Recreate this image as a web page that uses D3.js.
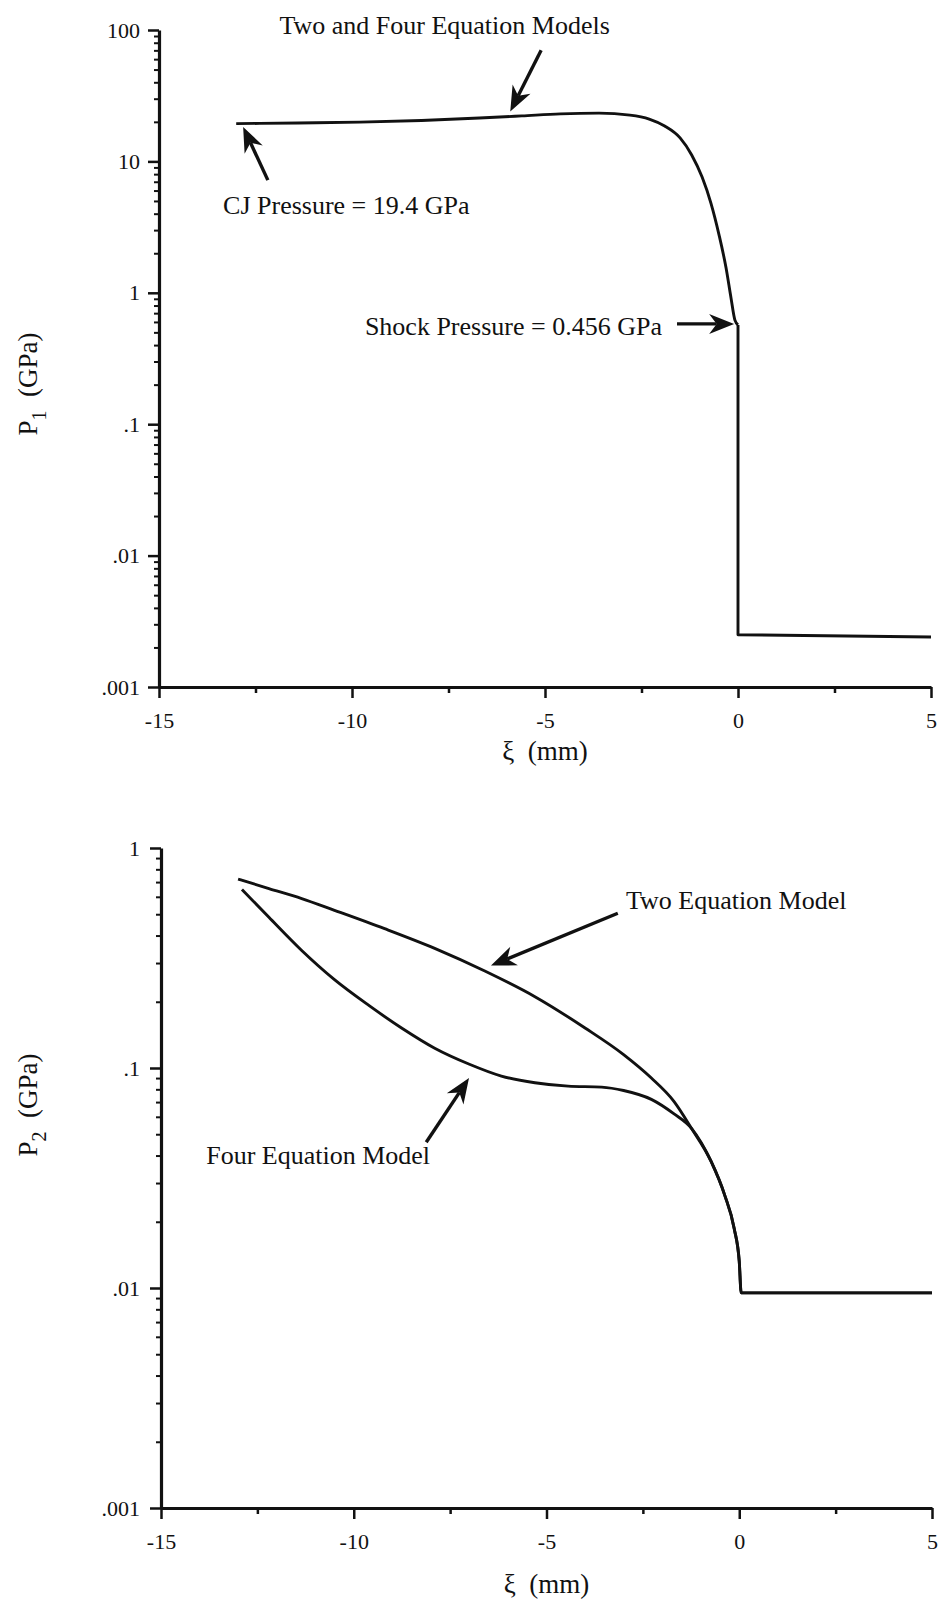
<!DOCTYPE html>
<html>
<head>
<meta charset="utf-8">
<script src="https://cdn.jsdelivr.net/npm/d3@7/dist/d3.min.js"></script>
<style>
  body { margin: 0; background: #fff; }
  svg text { font-family: "Liberation Serif", "Times New Roman", serif; fill: #111; }
</style>
</head>
<body>
<div id="chart"></div>
<script>
// ---- values ----
const xTicks = [-15, -10, -5, 0, 5];
const xMinorTicks = [-12.5, -7.5, -2.5, 2.5];
const xTickLabels = ['-15', '-10', '-5', '0', '5'];

const p1Ticks = [100, 10, 1, 0.1, 0.01, 0.001];
const p1TickLabels = ['100', '10', '1', '.1', '.01', '.001'];
const p2Ticks = [1, 0.1, 0.01, 0.001];
const p2TickLabels = ['1', '.1', '.01', '.001'];

// P1, two and four equation models (same curve)
const p1Xi = [-13, -11.4, -9.8, -8.2, -6.7, -5.6, -4.6, -3.6, -2.8, -2.3, -1.9, -1.5, -1.2, -0.93, -0.7, -0.49, -0.31, -0.18, -0.08, 0];
const p1 = [19.4, 19.6, 19.9, 20.5, 21.4, 22.2, 23.0, 23.3, 22.5, 21.0, 18.6, 15.1, 11.2, 7.6, 4.8, 2.75, 1.55, 0.91, 0.62, 0.57];
// shock jump and unreacted state ahead of the front
const p1JumpXi = [0, 0, 5];
const p1Jump = [0.57, 0.0025, 0.0024];

// P2
const p2TwoXi = [-13.0, -12.2, -11.35, -10.5, -9.2, -7.9, -6.6, -5.3, -4.0, -3.0, -2.28, -1.7, -1.24, -0.73, -0.38, -0.13, 0, 0.05, 5];
const p2Two = [0.722, 0.654, 0.589, 0.521, 0.43, 0.35, 0.276, 0.211, 0.152, 0.115, 0.090, 0.0707, 0.0532, 0.0376, 0.0265, 0.0186, 0.0132, 0.0095, 0.0095];
const p2FourXi = [-12.9, -12.2, -11.35, -10.5, -9.6, -8.76, -7.9, -7.0, -6.17, -5.3, -4.44, -3.57, -3.0, -2.28, -1.7, -1.24, -0.73, -0.38, -0.13, 0, 0.05, 5];
const p2Four = [0.648, 0.484, 0.342, 0.252, 0.192, 0.152, 0.123, 0.104, 0.0919, 0.0857, 0.0827, 0.0819, 0.079, 0.072, 0.062, 0.0532, 0.0376, 0.0265, 0.0186, 0.0132, 0.0095, 0.0095];

const width = 944;
const height = 1602;

const svg = d3.select('#chart').append('svg')
  .attr('width', width)
  .attr('height', height)
  .attr('viewBox', [0, 0, width, height]);

function minorLog(lo, hi) {
  const out = [];
  for (let d = lo; d < hi * 0.99; d *= 10) {
    for (let k = 2; k <= 9; k++) out.push(d * k);
  }
  return out;
}

function drawArrow(g, x1, y1, x2, y2) {
  const ang = Math.atan2(y2 - y1, x2 - x1);
  const L = 25, W = 20;
  const bx = x2 - Math.cos(ang) * L * 0.7, by = y2 - Math.sin(ang) * L * 0.7;
  g.append('line')
    .attr('x1', x1).attr('y1', y1).attr('x2', bx).attr('y2', by)
    .attr('stroke', '#111').attr('stroke-width', 3.4);
  const pts = [
    [0, 0], [-L, W / 2], [-L * 0.7, 0], [-L, -W / 2]
  ].map(([u, v]) => [x2 + u * Math.cos(ang) - v * Math.sin(ang), y2 + u * Math.sin(ang) + v * Math.cos(ang)]);
  g.append('path').attr('d', 'M' + pts.join('L') + 'Z').attr('fill', '#111');
}

function panel(cfg) {
  const x = d3.scaleLinear().domain([-15, 5]).range(cfg.xRange);
  // domain [top value, bottom value] -> range [top px, bottom px]
  const y = d3.scaleLog().domain(cfg.yDomain).range(cfg.yRange);
  const g = svg.append('g');

  // y axis: minor ticks then major ticks
  g.append('g')
    .attr('transform', `translate(${cfg.xRange[0]},0)`)
    .call(d3.axisLeft(y).tickValues(minorLog(cfg.yDomain[1], cfg.yDomain[0])).tickSize(5).tickSizeOuter(0).tickFormat(''))
    .call(a => a.select('.domain').remove())
    .call(a => a.selectAll('line').attr('stroke', '#111').attr('stroke-width', 2));
  g.append('g')
    .attr('transform', `translate(${cfg.xRange[0]},0)`)
    .call(d3.axisLeft(y).tickValues(cfg.yTicks).tickSize(11).tickSizeOuter(0).tickPadding(cfg.yPad)
      .tickFormat((d, i) => cfg.yLabels[i]))
    .call(a => a.select('.domain').attr('stroke', '#111').attr('stroke-width', 3.2))
    .call(a => a.selectAll('line').attr('stroke', '#111').attr('stroke-width', 2.5))
    .call(a => a.selectAll('text').attr('font-size', 22).attr('font-family', '"Liberation Serif", serif'));

  // x axis along the bottom of the panel
  const yb = cfg.yRange[1];
  g.append('g')
    .attr('transform', `translate(0,${yb})`)
    .call(d3.axisBottom(x).tickValues(xMinorTicks).tickSize(6).tickSizeOuter(0).tickFormat(''))
    .call(a => a.select('.domain').remove())
    .call(a => a.selectAll('line').attr('stroke', '#111').attr('stroke-width', 2.5));
  g.append('g')
    .attr('transform', `translate(0,${yb})`)
    .call(d3.axisBottom(x).tickValues(xTicks).tickSize(11).tickSizeOuter(0).tickPadding(cfg.xPad)
      .tickFormat((d, i) => xTickLabels[i]))
    .call(a => a.select('.domain').attr('stroke', '#111').attr('stroke-width', 3.2))
    .call(a => a.selectAll('line').attr('stroke', '#111').attr('stroke-width', 2.5))
    .call(a => a.selectAll('text').attr('font-size', 22).attr('font-family', '"Liberation Serif", serif'));

  // axis titles
  g.append('text')
    .attr('x', (cfg.xRange[0] + cfg.xRange[1]) / 2)
    .attr('y', cfg.xTitleY)
    .attr('text-anchor', 'middle')
    .attr('font-size', 27)
    .style('white-space', 'pre')
    .text('ξ  (mm)');
  const yt = g.append('text')
    .attr('transform', `translate(37,${cfg.yTitleY}) rotate(-90)`)
    .attr('text-anchor', 'middle')
    .attr('font-size', 27);
  yt.append('tspan').text('P');
  yt.append('tspan').attr('font-size', 20).attr('dy', 9).text(cfg.sub);
  yt.append('tspan').attr('dy', -9).style('white-space', 'pre').text('  (GPa)');

  const line = d3.line().x(d => x(d[0])).y(d => y(d[1]));
  cfg.curves.forEach(c => {
    g.append('path')
      .attr('fill', 'none')
      .attr('stroke', '#111')
      .attr('stroke-width', 2.9)
      .attr('stroke-linejoin', 'round')
      .attr('d', line.curve(c.curve)(d3.zip(c.xs, c.ys)));
  });

  cfg.notes.forEach(n => {
    g.append('text')
      .attr('x', x(n.x)).attr('y', y(n.y))
      .attr('text-anchor', n.anchor)
      .attr('dominant-baseline', 'central')
      .attr('font-size', 26)
      .text(n.text);
  });
  cfg.arrows.forEach(a => drawArrow(g, x(a.x1), y(a.y1), x(a.x2), y(a.y2)));
}

panel({
  xRange: [159, 931],
  yDomain: [100, 0.001],
  yRange: [30, 687],
  yTicks: p1Ticks,
  yLabels: p1TickLabels,
  sub: '1',
  yPad: 8,
  xPad: 14,
  xTitleY: 760,
  yTitleY: 384,
  curves: [
    { xs: p1Xi, ys: p1, curve: d3.curveMonotoneX },
    { xs: p1JumpXi, ys: p1Jump, curve: d3.curveLinear }
  ],
  notes: [
    { text: 'Two and Four Equation Models', x: -7.6, y: 109, anchor: 'middle' },
    { text: 'CJ Pressure = 19.4 GPa', x: -13.34, y: 4.6, anchor: 'start' },
    { text: 'Shock Pressure = 0.456 GPa', x: -1.97, y: 0.55, anchor: 'end' }
  ],
  arrows: [
    { x1: -5.1, y1: 70, x2: -5.9, y2: 24 },
    { x1: -12.18, y1: 7.2, x2: -12.82, y2: 18.3 },
    { x1: -1.58, y1: 0.58, x2: -0.1, y2: 0.58 }
  ]
});

panel({
  xRange: [161, 932],
  yDomain: [1, 0.001],
  yRange: [848, 1508],
  yTicks: p2Ticks,
  yLabels: p2TickLabels,
  sub: '2',
  yPad: 10,
  xPad: 14,
  xTitleY: 1593,
  yTitleY: 1105,
  curves: [
    { xs: p2TwoXi, ys: p2Two, curve: d3.curveMonotoneX },
    { xs: p2FourXi, ys: p2Four, curve: d3.curveMonotoneX }
  ],
  notes: [
    { text: 'Two Equation Model', x: -2.94, y: 0.579, anchor: 'start' },
    { text: 'Four Equation Model', x: -8.02, y: 0.04, anchor: 'end' }
  ],
  arrows: [
    { x1: -3.15, y1: 0.505, x2: -6.44, y2: 0.292 },
    { x1: -8.12, y1: 0.046, x2: -7.01, y2: 0.09 }
  ]
});
</script>
</body>
</html>
